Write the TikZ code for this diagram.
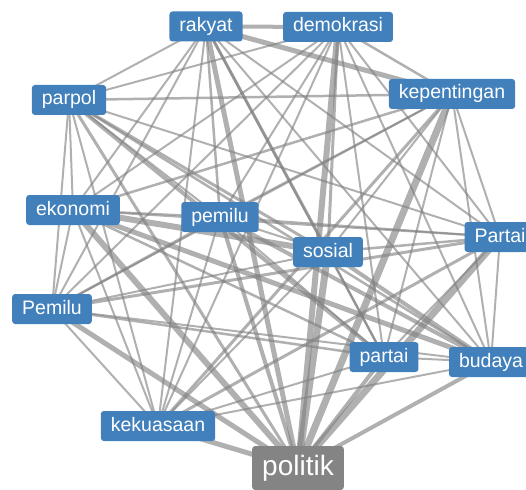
\documentclass[tikz,border=0pt]{standalone}
\usepackage{fontspec}
\setmainfont{Liberation Sans}
\usetikzlibrary{backgrounds}
\definecolor{wordblue}{RGB}{66,128,188}
\definecolor{wordgray}{RGB}{132,132,132}
\tikzset{
  word/.style={fill=wordblue, text=white, rounded corners=3pt, inner xsep=10pt, inner ysep=0pt,
    minimum height=30pt, text height=14pt, text depth=4pt, font=\fontsize{19.5}{20}\selectfont},
  mainword/.style={word, fill=wordgray, minimum height=44pt, text height=21pt, text depth=6pt,
    font=\fontsize{28}{30}\selectfont},
  link/.style={draw=black!50, opacity=0.62}
}
\begin{document}
\begin{tikzpicture}[x=1pt, y=-1pt]
\useasboundingbox (0,0) rectangle (526,489);
% Words
\node[word] (rakyat) at (206,26.5) {rakyat};
\node[word] (demokrasi) at (338,27) {demokrasi};
\node[word] (parpol) at (69,100) {parpol};
\node[word] (kepentingan) at (452,94) {kepentingan};
\node[word] (ekonomi) at (73,210) {ekonomi};
\node[word] (pemilu) at (220,217) {pemilu};
\node[word] (sosial) at (328,252) {sosial};
\node[word] (Partai) at (500,237) {Partai};
\node[word] (Pemilu) at (52,309) {Pemilu};
\node[word] (partai) at (384,357) {partai};
\node[word] (budaya) at (491,362) {budaya};
\node[word] (kekuasaan) at (158,426) {kekuasaan};
\node[mainword] (politik) at (298,468) {politik};

% Co-occurrence links (line width in pt)
\begin{pgfonlayer}{background}
\foreach \a/\b/\w in {
  rakyat/demokrasi/4, rakyat/parpol/2, rakyat/kepentingan/5, rakyat/ekonomi/2,
  rakyat/pemilu/2.5, rakyat/sosial/3, rakyat/Partai/2, rakyat/Pemilu/2,
  rakyat/partai/2.5, rakyat/budaya/2, rakyat/kekuasaan/2, rakyat/politik/5,
  demokrasi/parpol/2, demokrasi/kepentingan/2.5, demokrasi/ekonomi/2, demokrasi/pemilu/2,
  demokrasi/sosial/3, demokrasi/Partai/2, demokrasi/Pemilu/2, demokrasi/partai/2,
  demokrasi/budaya/2, demokrasi/kekuasaan/2, demokrasi/politik/6,
  parpol/kepentingan/2.5, parpol/ekonomi/2, parpol/pemilu/2, parpol/sosial/3,
  parpol/Partai/2, parpol/Pemilu/2, parpol/partai/4, parpol/budaya/2.5,
  parpol/kekuasaan/2, parpol/politik/3,
  kepentingan/ekonomi/2.5, kepentingan/pemilu/2, kepentingan/sosial/2, kepentingan/Partai/2,
  kepentingan/Pemilu/2, kepentingan/partai/2, kepentingan/budaya/2, kepentingan/kekuasaan/3,
  kepentingan/politik/7,
  ekonomi/pemilu/2, ekonomi/sosial/6, ekonomi/Partai/2, ekonomi/Pemilu/2,
  ekonomi/partai/2.5, ekonomi/budaya/5, ekonomi/kekuasaan/2, ekonomi/politik/6,
  pemilu/sosial/2, pemilu/Partai/2, pemilu/Pemilu/2.5, pemilu/partai/2,
  pemilu/budaya/4, pemilu/kekuasaan/2, pemilu/politik/4,
  sosial/Partai/2.5, sosial/Pemilu/2, sosial/partai/2, sosial/budaya/4,
  sosial/kekuasaan/2, sosial/politik/7,
  Partai/Pemilu/3, Partai/partai/2, Partai/budaya/2, Partai/kekuasaan/3, Partai/politik/7,
  Pemilu/partai/2.5, Pemilu/budaya/2, Pemilu/kekuasaan/2, Pemilu/politik/5,
  partai/budaya/2, partai/kekuasaan/2, partai/politik/4,
  budaya/kekuasaan/2, budaya/politik/4,
  kekuasaan/politik/5}
  \draw[link, line width=\w pt] (\a.center) -- (\b.center);
\end{pgfonlayer}
\end{tikzpicture}
\end{document}
